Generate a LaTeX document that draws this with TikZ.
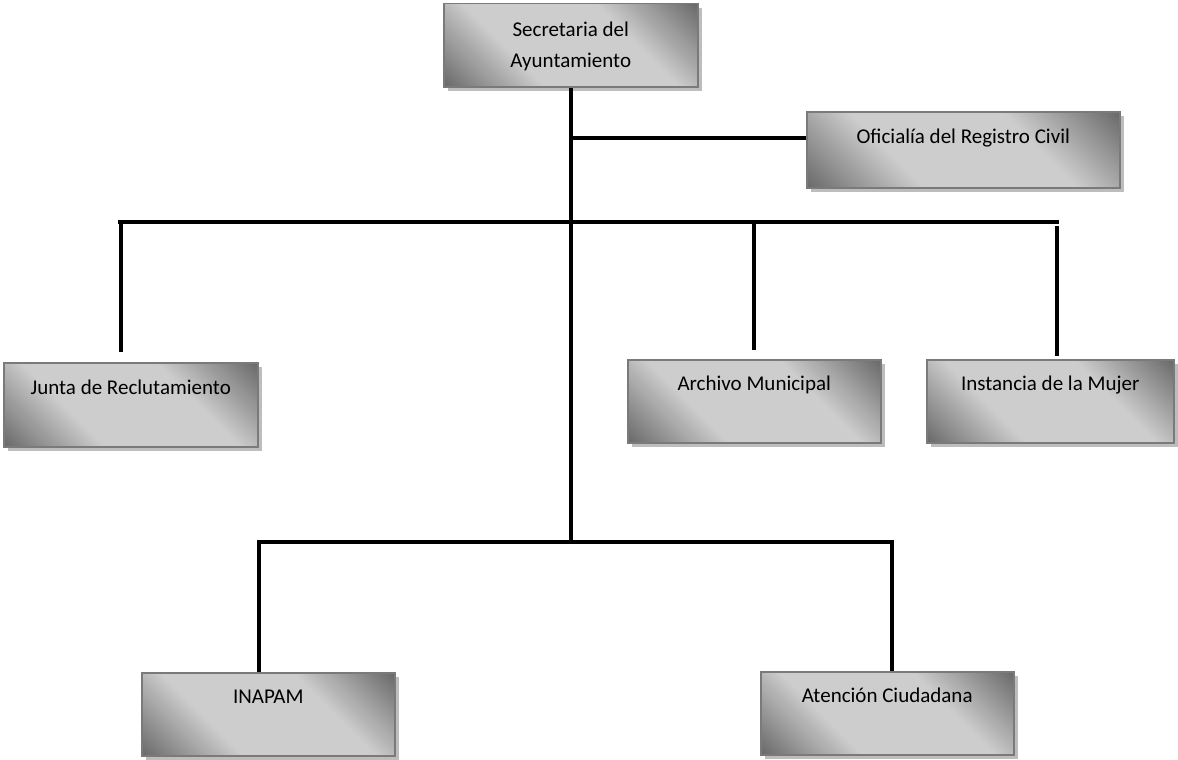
\documentclass[tikz,border=0pt]{standalone}
\usepackage{fontspec}
\setmainfont{Carlito}
\usetikzlibrary{shadows}
\definecolor{boxdark}{HTML}{6B6B6B}
\definecolor{boxlight}{HTML}{CDCDCD}
\definecolor{boxline}{HTML}{7A7A7A}
\definecolor{boxshadow}{HTML}{BDBDBD}
\pgfdeclareverticalshading{orgshade}{100bp}{color(0bp)=(boxdark); color(15bp)=(boxdark); color(36bp)=(boxlight); color(64bp)=(boxlight); color(85bp)=(boxdark); color(100bp)=(boxdark)}
\newcommand\btxt[4]{\parbox[c][#2][t]{#1}{\centering\rule{0pt}{#3}#4}}
\tikzset{
  orgbox/.style={rectangle, inner sep=0pt, anchor=north west, draw=boxline, line width=1.5pt,
    shading=orgshade, shading angle=-45,
    drop shadow={shadow xshift=4pt, shadow yshift=-4pt, fill=boxshadow, opacity=1},
    font=\fontsize{21}{31}\selectfont},
  conn/.style={line width=4pt, black}
}
\begin{document}
\begin{tikzpicture}[x=1pt,y=1pt]
\useasboundingbox (0,0) rectangle (1178,-760);
% boxes
\node[orgbox] (sec) at (443,-3) {\btxt{254pt}{83pt}{33pt}{Secretaria del\\Ayuntamiento}};
\node[orgbox] (ofi) at (806,-111) {\btxt{313pt}{76pt}{32pt}{Oficialía del Registro Civil}};
\node[orgbox] (junta) at (3,-362) {\btxt{254pt}{84pt}{32pt}{Junta de Reclutamiento}};
\node[orgbox] (arch) at (627,-359) {\btxt{253pt}{83pt}{31pt}{Archivo Municipal}};
\node[orgbox] (inst) at (926,-359) {\btxt{247pt}{83pt}{31pt}{Instancia de la Mujer}};
\node[orgbox] (inapam) at (141,-672) {\btxt{253pt}{83pt}{31pt}{INAPAM}};
\node[orgbox] (aten) at (760,-671) {\btxt{253pt}{83pt}{31pt}{Atención Ciudadana}};
% coordinates
\coordinate (jO) at (571,-138);
\coordinate (barL) at (118,-222);
\coordinate (barR) at (1059,-222);
\coordinate (dJ) at (121,-222);
\coordinate (dA) at (754,-224);
\coordinate (dI) at (1057,-226);
\coordinate (bot) at (571,-542);
\coordinate (botL) at (259,-542);
\coordinate (botR) at (892,-542);
% connectors
\draw[conn] (sec.south -| bot) -- (bot);
\draw[conn] (jO) -- (jO -| ofi.west);
\draw[conn] (barL) -- (barR);
\draw[conn] (dJ) -- ([yshift=10pt]dJ |- junta.north);
\draw[conn] (dA) -- ([yshift=9pt]dA |- arch.north);
\draw[conn] (dI) -- ([yshift=3pt]dI |- inst.north);
\draw[conn] (botL |- inapam.north) -- (botL) -- (botR) -- (botR |- aten.north);
\end{tikzpicture}
\end{document}
